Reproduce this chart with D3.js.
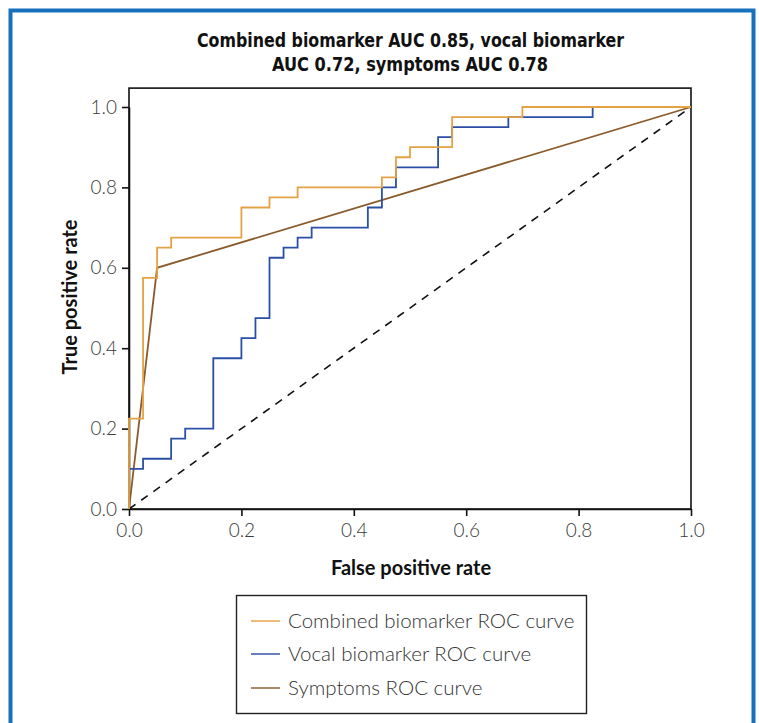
<!DOCTYPE html>
<html>
<head>
<meta charset="utf-8">
<script src="https://cdn.jsdelivr.net/npm/d3@7"></script>
<style>
  body { margin: 0; background: #fff; }
  .tick text { font-family: Lato, "Open Sans", sans-serif; font-weight: 300; font-size: 19px; fill: #3a3a3a; }
  .axis path, .axis line { stroke: #111; stroke-width: 1.6; }
  .title { font-family: "DejaVu Sans Condensed", "Liberation Sans Narrow", sans-serif; font-weight: bold; font-size: 19px; fill: #111; }
  .label { font-family: Lato, "Open Sans", sans-serif; font-weight: 700; font-size: 20px; fill: #111; }
  .legend text { font-family: Lato, "Open Sans", sans-serif; font-weight: 300; font-size: 20.5px; fill: #333; }
</style>
</head>
<body>
<script>
var width = 759,
    height = 723;

// combined biomarker ROC (step corners)
var combinedFpr = [0, 0, 0.025, 0.05, 0.075, 0.2, 0.25, 0.3, 0.45, 0.475, 0.5, 0.575, 0.7, 1];
var combinedTpr = [0, 0.225, 0.575, 0.65, 0.675, 0.75, 0.775, 0.8, 0.825, 0.875, 0.9, 0.975, 1, 1];

// vocal biomarker ROC
var vocalFpr = [0, 0, 0.025, 0.075, 0.1, 0.15, 0.2, 0.225, 0.25, 0.275, 0.3, 0.325, 0.425, 0.45, 0.475, 0.55, 0.575, 0.675, 0.825, 1];
var vocalTpr = [0, 0.1, 0.125, 0.175, 0.2, 0.375, 0.425, 0.475, 0.625, 0.65, 0.675, 0.7, 0.75, 0.8, 0.85, 0.925, 0.95, 0.975, 1, 1];

// symptoms ROC (straight segments)
var symptomsFpr = [0, 0.05, 1];
var symptomsTpr = [0, 0.6, 1];

var tickValues = [0, 0.2, 0.4, 0.6, 0.8, 1.0];
var legendLabels = ["Combined biomarker ROC curve", "Vocal biomarker ROC curve", "Symptoms ROC curve"];
var colors = ["#e5a244", "#2a4fa6", "#8b5a2b"];

var x = d3.scaleLinear().domain([0, 1]).range([129, 691]);
var y = d3.scaleLinear().domain([0, 1]).range([509, 107]);
var yTop = y(1.047);

var svg = d3.select("body").append("svg")
    .attr("width", width)
    .attr("height", height);

// blue outer frame, open at the bottom
svg.append("path")
    .attr("d", "M10.5," + height + "V10.5H753.5V" + height)
    .attr("fill", "none")
    .attr("stroke", "#1871bd")
    .attr("stroke-width", 4);

// title squeezed to the narrow look of the original
svg.append("text").attr("class", "title")
    .attr("x", 197).attr("y", 47)
    .attr("textLength", 427).attr("lengthAdjust", "spacingAndGlyphs")
    .text("Combined biomarker AUC 0.85, vocal biomarker");
svg.append("text").attr("class", "title")
    .attr("x", 272).attr("y", 71)
    .attr("textLength", 276).attr("lengthAdjust", "spacingAndGlyphs")
    .text("AUC 0.72, symptoms AUC 0.78");

// plot frame
svg.append("rect")
    .attr("x", x(0)).attr("y", yTop)
    .attr("width", x(1) - x(0)).attr("height", y(0) - yTop)
    .attr("fill", "none").attr("stroke", "#111").attr("stroke-width", 1.6);

var fmt = d3.format(".1f");

svg.append("g").attr("class", "axis")
    .attr("transform", "translate(0," + y(0) + ")")
    .call(d3.axisBottom(x).tickValues(tickValues).tickFormat(fmt).tickSize(7).tickSizeOuter(0).tickPadding(8));

svg.append("g").attr("class", "axis")
    .attr("transform", "translate(" + x(0) + ",0)")
    .call(d3.axisLeft(y).tickValues(tickValues).tickFormat(fmt).tickSize(7).tickSizeOuter(0).tickPadding(5));

svg.append("text").attr("class", "label")
    .attr("x", 411).attr("y", 575).attr("text-anchor", "middle")
    .text("False positive rate");
svg.append("text").attr("class", "label")
    .attr("transform", "translate(77,297) rotate(-90)")
    .attr("text-anchor", "middle")
    .text("True positive rate");

// chance line
svg.append("line")
    .attr("x1", x(0)).attr("y1", y(0)).attr("x2", x(1)).attr("y2", y(1))
    .attr("stroke", "#111").attr("stroke-width", 1.6)
    .attr("stroke-dasharray", "8,7");

var stepLine = d3.line().x(d => x(d[0])).y(d => y(d[1])).curve(d3.curveStepAfter);
var straightLine = d3.line().x(d => x(d[0])).y(d => y(d[1]));

svg.append("path")
    .datum(symptomsFpr.map((f, i) => [f, symptomsTpr[i]]))
    .attr("fill", "none").attr("stroke", colors[2]).attr("stroke-width", 1.8)
    .attr("d", straightLine);

svg.append("path")
    .datum(vocalFpr.map((f, i) => [f, vocalTpr[i]]))
    .attr("fill", "none").attr("stroke", colors[1]).attr("stroke-width", 1.8)
    .attr("d", stepLine);

svg.append("path")
    .datum(combinedFpr.map((f, i) => [f, combinedTpr[i]]))
    .attr("fill", "none").attr("stroke", colors[0]).attr("stroke-width", 1.8)
    .attr("d", stepLine);

// legend
var legend = svg.append("g").attr("class", "legend");
legend.append("rect")
    .attr("x", 236.5).attr("y", 595.5).attr("width", 350).attr("height", 118)
    .attr("fill", "#fff").attr("stroke", "#222").attr("stroke-width", 1.4);

var items = legend.selectAll("g.item").data(legendLabels)
  .enter().append("g").attr("class", "item")
    .attr("transform", (d, i) => "translate(0," + [621, 654, 688][i] + ")");
items.append("line")
    .attr("x1", 251).attr("x2", 280)
    .attr("stroke", (d, i) => colors[i]).attr("stroke-width", 1.8)
    .attr("stroke-opacity", 0.8);
items.append("text")
    .attr("x", 288).attr("dy", "0.35em")
    .text(d => d);
</script>
</body>
</html>
